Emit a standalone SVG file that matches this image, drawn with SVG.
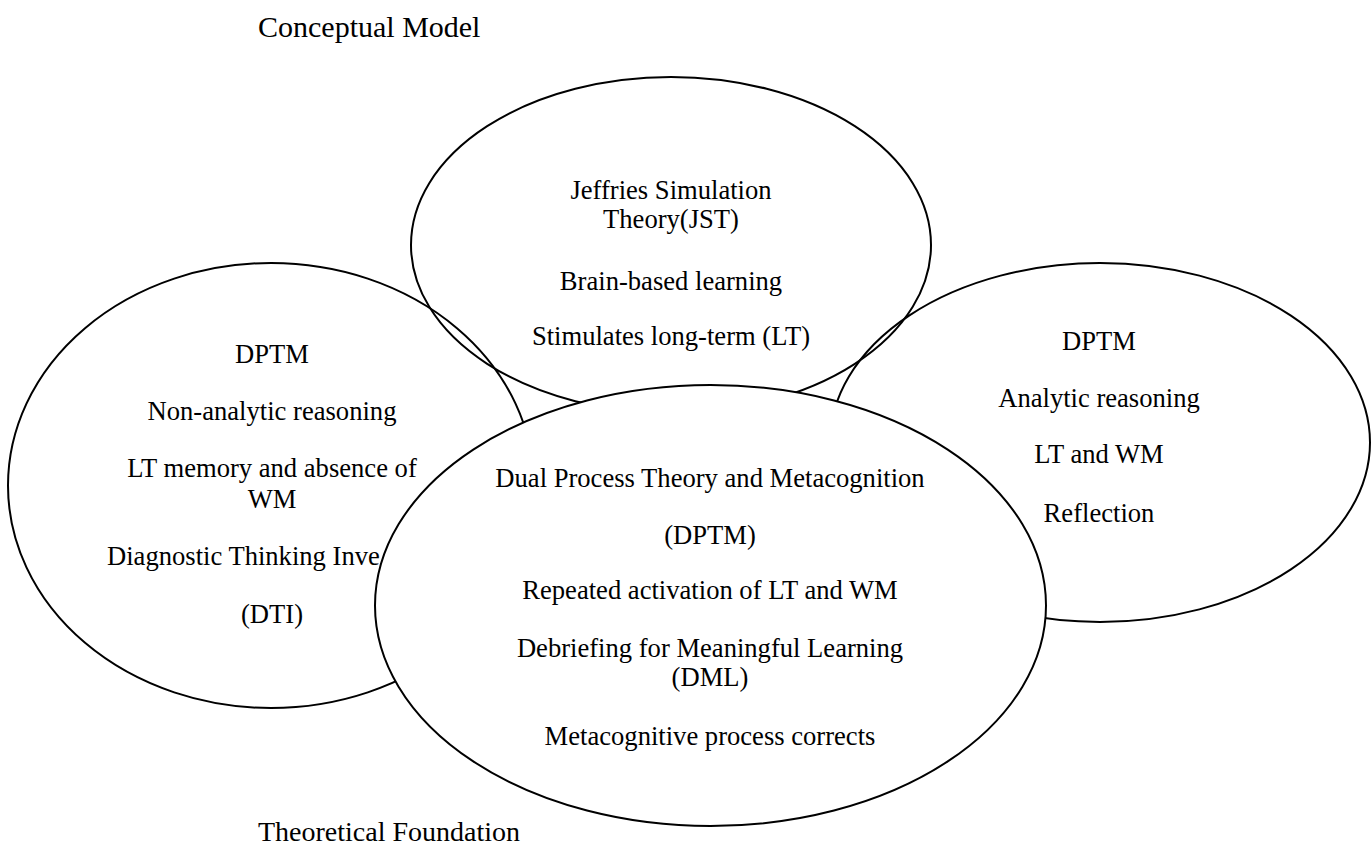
<svg xmlns="http://www.w3.org/2000/svg" width="1372" height="851" viewBox="0 0 1372 851">
<style>
  .shape { fill: none; stroke: #000; stroke-width: 2; }
  .front { fill: #fff; stroke: #000; stroke-width: 2; }
  text { font-family: "Liberation Serif", "Times New Roman", serif; font-size: 26.6px; fill: #000; }
  .c { text-anchor: middle; }
  .title { font-size: 28px; }
</style>
<rect width="1372" height="851" fill="#fff"/>
<text class="title" x="258" y="37" style="font-size:30px">Conceptual Model</text>
<g id="left">
  <ellipse class="shape" cx="271" cy="485.5" rx="263" ry="222.5"/>
  <text class="c" x="272" y="363">DPTM</text>
  <text class="c" x="272" y="420">Non-analytic reasoning</text>
  <text class="c" x="272" y="477">LT memory and absence of</text>
  <text class="c" x="272" y="508">WM</text>
  <text x="107" y="565">Diagnostic Thinking Inve</text>
  <text class="c" x="272" y="623">(DTI)</text>
</g>
<g id="top">
  <ellipse class="shape" cx="671" cy="245" rx="260" ry="168"/>
  <text class="c" x="671" y="199">Jeffries Simulation</text>
  <text class="c" x="671" y="228">Theory(JST)</text>
  <text class="c" x="671" y="290">Brain-based learning</text>
  <text class="c" x="671" y="345">Stimulates long-term (LT)</text>
</g>
<g id="right">
  <ellipse class="shape" cx="1100" cy="442.5" rx="270" ry="179.5"/>
  <text class="c" x="1099" y="350">DPTM</text>
  <text class="c" x="1099" y="407">Analytic reasoning</text>
  <text class="c" x="1099" y="463">LT and WM</text>
  <text class="c" x="1099" y="522">Reflection</text>
</g>
<g id="center">
  <ellipse class="front" cx="710.5" cy="605.5" rx="335.5" ry="220.5"/>
  <text class="c" x="710" y="487">Dual Process Theory and Metacognition</text>
  <text class="c" x="710" y="544">(DPTM)</text>
  <text class="c" x="710" y="599">Repeated activation of LT and WM</text>
  <text class="c" x="710" y="657">Debriefing for Meaningful Learning</text>
  <text class="c" x="710" y="686">(DML)</text>
  <text class="c" x="710" y="745">Metacognitive process corrects</text>
</g>
<g id="connectors"></g>
<text class="title" x="258" y="841">Theoretical Foundation</text>
</svg>
